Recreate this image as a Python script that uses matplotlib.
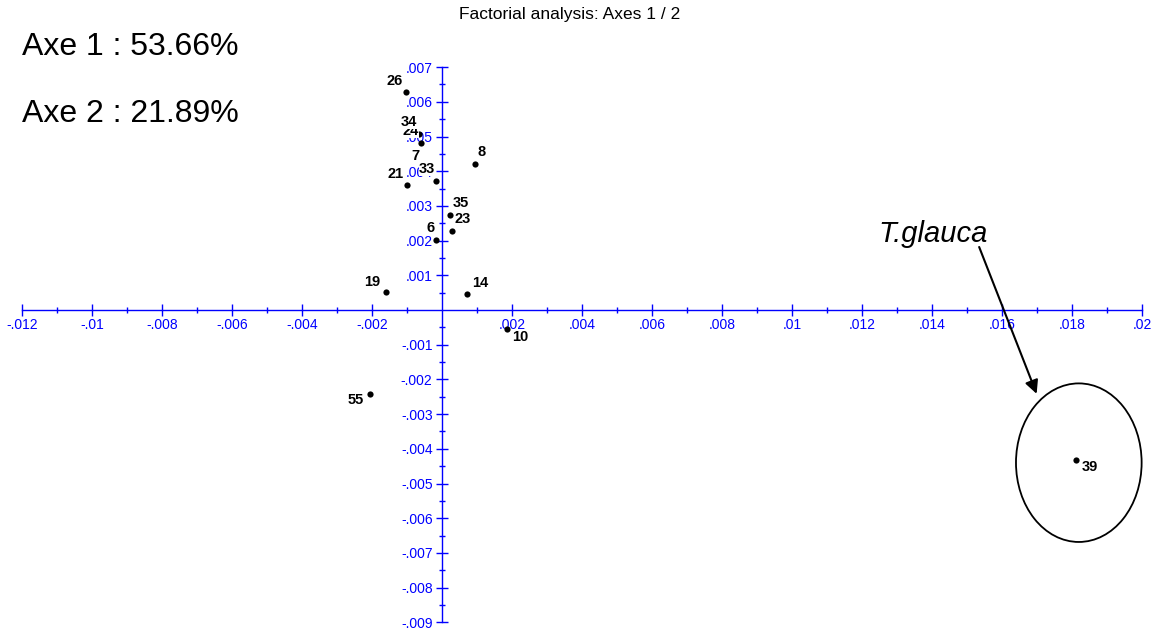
import matplotlib
matplotlib.use('Agg')
import matplotlib.pyplot as plt
from matplotlib.patches import Ellipse
from matplotlib.ticker import FuncFormatter, FixedLocator
import numpy as np

plt.rcParams['font.family'] = ['Liberation Sans', 'DejaVu Sans']

# factor scores (axis 1, axis 2) for each sample
labels = ['26', '24', '34', '7', '8', '33', '21', '35', '23', '6', '19', '14', '10', '55', '39']
axis1 = [-0.00105, -0.00061, -0.00066, -0.00058, 0.00093, -0.00018, -0.00100, 0.00022,
         0.00028, -0.00018, -0.00162, 0.00071, 0.00184, -0.00207, 0.01811]
axis2 = [0.00627, 0.00482, 0.00508, 0.00409, 0.00420, 0.00371, 0.00359, 0.00274,
         0.00227, 0.00203, 0.00051, 0.00047, -0.00055, -0.00242, -0.00433]

inertia = [53.66, 21.89]
title = 'Factorial analysis: Axes 1 / 2'
highlight = 'T.glauca'

# label placement: offset in points from the dot, and alignment
label_pos = {
    '26': (-2, 8.5, 'right'), '24': (-1.5, 8.5, 'right'), '34': (-1.5, 8.5, 'right'),
    '7': (-1.5, 8.5, 'right'), '8': (2, 8.5, 'left'), '33': (-0.7, 8.5, 'right'),
    '21': (-3, 8, 'right'), '35': (2, 8.5, 'left'), '23': (2, 8.5, 'left'),
    '6': (-1.2, 8.5, 'right'), '19': (-3.5, 7.5, 'right'), '14': (3.5, 7.5, 'left'),
    '10': (4, -5.5, 'left'), '55': (-4, -4.5, 'right'), '39': (4, -5, 'left'),
}

W, H, DPI = 1154, 630, 100
fig = plt.figure(figsize=(W / DPI, H / DPI), dpi=DPI)
ax = fig.add_axes([0, 0, 1, 1])

# pixel mapping: origin at (442.3, 310), ~35000 px per unit
ox, oy = 442.3, 310.0
sx, sy = 35000.0, 34700.0
ax.set_xlim((0 - ox) / sx, (W - ox) / sx)
ax.set_ylim((oy - H) / sy, oy / sy)

blue = '#0000ff'
for side in ['top', 'right']:
    ax.spines[side].set_visible(False)
ax.spines['left'].set_position(('data', 0))
ax.spines['bottom'].set_position(('data', 0))
ax.spines['bottom'].set_bounds(-0.012, 0.02)
ax.spines['left'].set_bounds(-0.009, 0.007)
for side in ['left', 'bottom']:
    ax.spines[side].set_color(blue)
    ax.spines[side].set_linewidth(1.0)

xt = [v for v in np.arange(-0.012, 0.0201, 0.002) if abs(v) > 1e-9]
yt = [v for v in np.arange(-0.009, 0.0071, 0.001) if abs(v) > 1e-9]
xm = list(np.arange(-0.011, 0.0200, 0.002))
ym = list(np.arange(-0.0085, 0.0070, 0.001))
ax.xaxis.set_major_locator(FixedLocator(xt))
ax.yaxis.set_major_locator(FixedLocator(yt))
ax.xaxis.set_minor_locator(FixedLocator(xm))
ax.yaxis.set_minor_locator(FixedLocator(ym))


def fmt(v, pos):
    s = f'{v:.3f}'.rstrip('0')
    return s.replace('0.', '.', 1)


ax.xaxis.set_major_formatter(FuncFormatter(fmt))
ax.yaxis.set_major_formatter(FuncFormatter(fmt))
ax.tick_params(which='major', direction='inout', length=9, width=1.0, color=blue,
               labelcolor=blue, labelsize=10)
ax.tick_params(axis='x', which='major', pad=1.5)
ax.tick_params(axis='y', which='major', pad=2.5)
ax.tick_params(which='minor', direction='inout', length=5, width=1.0, color=blue)

# points and labels
ax.scatter(axis1, axis2, s=20, color='black', zorder=3, linewidths=0)
for lab, x, y in zip(labels, axis1, axis2):
    dx, dy, ha = label_pos[lab]
    ax.annotate(lab, (x, y), xytext=(dx, dy), textcoords='offset points',
                ha=ha, va='center', fontsize=10.5, fontweight='bold', zorder=4,
                bbox=dict(boxstyle='square,pad=0', fc='white', ec='none'))

# highlighted sample
ax.add_patch(Ellipse((0.018186, -0.0044), 0.00359, 0.00457, fill=False,
                     ec='black', lw=1.3, zorder=2))
ax.annotate('', xy=(0.01701, -0.00249), xytext=(0.01531, 0.00189),
            arrowprops=dict(arrowstyle='-|>', color='black', lw=1.5, mutation_scale=20))
ax.text(0.01402, 0.00220, highlight, fontsize=21, style='italic', ha='center', va='center')

fig.text(570 / W, 1 - 14 / H, title, fontsize=12.5, ha='center', va='center')
for k, val in enumerate(inertia):
    fig.text(22 / W, 1 - (47 + 67 * k) / H, f'Axe {k + 1} : {val:.2f}%', fontsize=23,
             ha='left', va='center')

fig.savefig('out.png', dpi=DPI)
